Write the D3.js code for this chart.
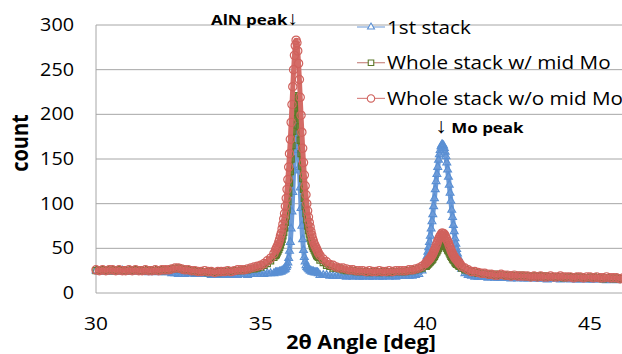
<!DOCTYPE html>
<meta charset="utf-8">
<script src="https://d3js.org/d3.v7.min.js"></script>
<style>
body { margin: 0; background: #fff; overflow: hidden; }
text { font-family: 'Open Sans', sans-serif; fill: #000; }
</style>
<div id="chart"></div>
<script>
// scan angle (2theta, deg) - coarse on background, fine on the two peaks
const angle = [
  30, 30.1, 30.2, 30.3, 30.4, 30.5, 30.6, 30.7, 30.8, 30.9,
  31, 31.1, 31.2, 31.3, 31.4, 31.5, 31.6, 31.7, 31.8, 31.9,
  32, 32.1, 32.2, 32.3, 32.4, 32.5, 32.6, 32.7, 32.8, 32.9,
  33, 33.1, 33.2, 33.3, 33.4, 33.5, 33.6, 33.7, 33.8, 33.9,
  34, 34.1, 34.2, 34.3, 34.4, 34.5, 34.6, 34.7, 34.8, 34.9,
  35, 35.1, 35.2, 35.3, 35.4,
  35.45, 35.475, 35.5, 35.525, 35.55, 35.575, 35.6, 35.625, 35.65, 35.675,
  35.7, 35.725, 35.75, 35.775, 35.8, 35.825, 35.85, 35.875, 35.9, 35.925,
  35.95, 35.975, 36, 36.025, 36.05, 36.075, 36.1, 36.125, 36.15, 36.175,
  36.2, 36.225, 36.25, 36.275, 36.3, 36.325, 36.35, 36.375, 36.4, 36.425,
  36.45, 36.475, 36.5, 36.525, 36.55, 36.575, 36.6, 36.625, 36.65, 36.675,
  36.7, 36.725, 36.75,
  36.8, 36.9, 37, 37.1, 37.2, 37.3, 37.4, 37.5, 37.6, 37.7,
  37.8, 37.9, 38, 38.1, 38.2, 38.3, 38.4, 38.5, 38.6, 38.7,
  38.8, 38.9, 39, 39.1, 39.2, 39.3, 39.4, 39.5, 39.6, 39.7,
  39.8, 39.9,
  40, 40.025, 40.05, 40.075, 40.1, 40.125, 40.15, 40.175, 40.2, 40.225,
  40.25, 40.275, 40.3, 40.325, 40.35, 40.375, 40.4, 40.425, 40.45, 40.475,
  40.5, 40.525, 40.55, 40.575, 40.6, 40.625, 40.65, 40.675, 40.7, 40.725,
  40.75, 40.775, 40.8, 40.825, 40.85, 40.875, 40.9, 40.925, 40.95, 40.975,
  41, 41.025, 41.05,
  41.1, 41.2, 41.3, 41.4, 41.5, 41.6, 41.7, 41.8, 41.9,
  42, 42.1, 42.2, 42.3, 42.4, 42.5, 42.6, 42.7, 42.8, 42.9,
  43, 43.1, 43.2, 43.3, 43.4, 43.5, 43.6, 43.7, 43.8, 43.9,
  44, 44.1, 44.2, 44.3, 44.4, 44.5, 44.6, 44.7, 44.8, 44.9,
  45, 45.1, 45.2, 45.3, 45.4, 45.5, 45.6, 45.7, 45.8, 45.9, 46
]

const stack1 = [
  25, 24, 25, 24, 24, 25, 24, 24, 25, 24,
  24, 24, 25, 24, 24, 24, 23, 24, 24, 23,
  24, 23, 23, 22, 22, 21, 21, 21, 22, 22,
  21, 22, 21, 21, 21, 20, 21, 20, 21, 20,
  21, 20, 21, 20, 21, 21, 20, 21, 21, 21,
  21, 21, 22, 22, 22,
  23, 23, 23, 23, 23, 24, 24, 24, 25, 25,
  26, 26, 27, 29, 31, 34, 39, 47, 57, 72,
  91, 113, 137, 160, 178, 189, 190, 181, 164, 141,
  118, 95, 75, 60, 48, 40, 35, 31, 29, 28,
  27, 26, 25, 25, 24, 24, 24, 23, 23, 23,
  23, 23, 22,
  20, 20, 20, 19, 19, 19, 19, 19, 18, 19,
  18, 19, 18, 18, 19, 18, 18, 19, 18, 18,
  19, 18, 19, 18, 19, 19, 19, 19, 19, 20,
  21, 25,
  34, 37, 41, 46, 51, 57, 64, 72, 80, 88,
  97, 106, 116, 125, 133, 141, 149, 155, 160, 164,
  166, 166, 165, 162, 158, 153, 146, 138, 130, 121,
  112, 103, 93, 85, 76, 69, 61, 55, 49, 44,
  40, 36, 32,
  27, 22, 20, 19, 18, 18, 18, 18, 17,
  18, 17, 17, 17, 17, 17, 16, 17, 16, 17,
  16, 16, 17, 16, 16, 16, 16, 15, 16, 16,
  16, 15, 16, 16, 15, 16, 15, 15, 16, 15,
  15, 15, 15, 16, 15, 14, 15, 15, 14, 15, 15
]

const withMidMo = [
  25, 26, 25, 26, 25, 25, 26, 25, 26, 25,
  25, 26, 25, 26, 25, 25, 26, 25, 25, 26,
  25, 26, 26, 27, 27, 28, 27, 26, 26, 25,
  24, 25, 24, 24, 23, 24, 24, 23, 24, 24,
  24, 25, 25, 25, 25, 26, 26, 27, 27, 28,
  29, 31, 33, 36, 40,
  42, 43, 45, 47, 49, 51, 54, 57, 60, 64,
  68, 73, 79, 86, 93, 102, 112, 123, 136, 150,
  165, 181, 195, 207, 216, 221, 218, 211, 200, 186,
  171, 156, 142, 128, 116, 106, 97, 89, 82, 75,
  70, 66, 62, 58, 55, 52, 50, 48, 46, 44,
  42, 41, 40,
  37, 34, 31, 30, 28, 28, 27, 26, 25, 25,
  25, 24, 24, 24, 24, 23, 24, 24, 23, 24,
  24, 23, 24, 24, 24, 24, 24, 25, 25, 26,
  27, 28,
  30, 30, 31, 32, 33, 34, 35, 36, 37, 38,
  40, 41, 43, 45, 46, 48, 50, 52, 53, 54,
  55, 56, 55, 54, 53, 52, 50, 48, 47, 45,
  43, 41, 40, 38, 37, 36, 34, 33, 32, 32,
  31, 30, 30,
  28, 26, 25, 24, 23, 22, 22, 21, 21,
  20, 21, 20, 20, 20, 19, 20, 19, 19, 20,
  19, 18, 19, 18, 19, 18, 19, 18, 18, 18,
  18, 18, 17, 18, 18, 18, 17, 18, 17, 17,
  17, 18, 17, 17, 16, 17, 17, 16, 17, 16, 16
]

const withoutMidMo = [
  26, 25, 26, 25, 26, 26, 25, 26, 25, 25,
  26, 25, 26, 25, 25, 26, 25, 25, 26, 25,
  26, 26, 26, 27, 28, 28, 27, 26, 26, 25,
  25, 24, 24, 25, 24, 24, 23, 24, 24, 24,
  25, 24, 25, 26, 26, 26, 27, 28, 29, 30,
  31, 33, 36, 39, 44,
  48, 50, 52, 54, 57, 60, 64, 67, 72, 77,
  83, 89, 97, 106, 116, 127, 141, 156, 172, 191,
  211, 231, 250, 266, 277, 283, 280, 271, 257, 239,
  219, 199, 180, 162, 146, 132, 120, 110, 100, 92,
  85, 79, 74, 69, 65, 61, 58, 55, 53, 51,
  49, 47, 45,
  42, 38, 35, 32, 31, 29, 28, 28, 27, 26,
  26, 25, 25, 25, 24, 25, 24, 24, 25, 24,
  24, 25, 24, 25, 25, 25, 25, 26, 26, 27,
  28, 30,
  33, 34, 35, 36, 37, 38, 39, 41, 42, 44,
  46, 48, 50, 53, 55, 58, 60, 62, 64, 65,
  67, 67, 66, 66, 64, 62, 60, 58, 56, 53,
  51, 48, 46, 44, 42, 41, 39, 38, 37, 36,
  35, 33, 33,
  30, 28, 26, 24, 24, 23, 22, 22, 21,
  21, 20, 20, 21, 20, 20, 19, 20, 19, 19,
  19, 19, 18, 19, 18, 19, 18, 18, 19, 18,
  18, 19, 18, 18, 18, 17, 18, 18, 17, 18,
  18, 17, 18, 17, 17, 18, 17, 17, 17, 16, 17
]

const seriesNames = ['1st stack', 'Whole stack w/ mid Mo', 'Whole stack w/o mid Mo']
const yTicks = [0, 50, 100, 150, 200, 250, 300]
const xTicks = [30, 35, 40, 45]

const width = 622, height = 354
const plot = {left: 96, right: 623, top: 25, bottom: 293}
const stretch = 1.13 // the original picture is a little wide, text included

const x = d3.scaleLinear().domain([30, 46]).range([plot.left, plot.right])
const y = d3.scaleLinear().domain([0, 300]).range([plot.bottom, plot.top])

// the scan is so dense in the original that the markers merge into a band,
// so the data line is drawn thick in the marker colour underneath them
const series = [
  {name: seriesNames[0], values: stack1, symbol: d3.symbolTriangle, size: 26,
   stroke: '#5a8fd3', band: '#6d9bd8', key: '#82a8dc'},
  {name: seriesNames[1], values: withMidMo, symbol: d3.symbolSquare, size: 38,
   stroke: '#5c782a', band: '#6a8634', key: '#c98a84'},
  {name: seriesNames[2], values: withoutMidMo, symbol: d3.symbolCircle, size: 54,
   stroke: '#d0625d', band: '#d46b66', key: '#d98784'},
]

const svg = d3.select('#chart').append('svg')
  .attr('width', width)
  .attr('height', height)

// stretched text, placed at (px, py)
function label(parent, px, py, str, size, anchor, weight, rotate) {
  const g = parent.append('g')
    .attr('transform', `translate(${px},${py}) scale(${stretch},1)` + (rotate ? ` rotate(${rotate})` : ''))
  return g.append('text')
    .attr('text-anchor', anchor)
    .attr('font-size', size)
    .attr('font-weight', weight || 'normal')
    .text(str)
}

// grid lines
svg.append('g')
  .selectAll('line')
  .data(yTicks.filter(d => d > 0))
  .join('line')
  .attr('x1', plot.left).attr('x2', width)
  .attr('y1', d => y(d)).attr('y2', d => y(d))
  .attr('stroke', '#a6a6a6')
  .attr('stroke-width', 1)

// axis lines
svg.append('line')
  .attr('x1', plot.left).attr('x2', plot.left)
  .attr('y1', plot.top).attr('y2', plot.bottom)
  .attr('stroke', '#a6a6a6')
svg.append('line')
  .attr('x1', plot.left).attr('x2', width)
  .attr('y1', plot.bottom).attr('y2', plot.bottom)
  .attr('stroke', '#a6a6a6')

const tickG = svg.append('g')
yTicks.forEach(t => label(tickG, 74, y(t) + 6, t, 17.5, 'end'))
xTicks.forEach(t => label(tickG, x(t), 330, t, 18.5, 'middle'))

// data: lines + hollow markers, red series drawn last
const line = d3.line()
  .x((d, i) => x(angle[i]))
  .y(d => y(d))

series.forEach(s => {
  const g = svg.append('g')
  g.append('path')
    .datum(s.values)
    .attr('d', line)
    .attr('fill', 'none')
    .attr('stroke', s.band)
    .attr('stroke-width', 5)
    .attr('stroke-linejoin', 'round')
  g.selectAll('path.m')
    .data(s.values)
    .join('path')
    .attr('class', 'm')
    .attr('d', d3.symbol().type(s.symbol).size(s.size))
    .attr('transform', (d, i) => `translate(${x(angle[i])},${y(d)})`)
    .attr('fill', 'none')
    .attr('stroke', s.stroke)
    .attr('stroke-width', 1.2)
})

// legend
const legend = svg.append('g')
series.forEach((s, i) => {
  const ly = 27 + i * 35.7
  legend.append('line')
    .attr('x1', 357).attr('x2', 385)
    .attr('y1', ly).attr('y2', ly)
    .attr('stroke', s.key)
    .attr('stroke-width', 1.2)
  legend.append('path')
    .attr('d', d3.symbol().type(s.symbol).size(s.size * 0.8))
    .attr('transform', `translate(371,${ly})`)
    .attr('fill', '#fff')
    .attr('stroke', s.stroke)
    .attr('stroke-width', 1.1)
  label(legend, 387, ly + 6.5, s.name, 18.3, 'start')
})

// annotations
const aln = label(svg, 211, 25, 'AlN peak', 15, 'start', 'bold')
aln.append('tspan').attr('font-size', 19).attr('font-weight', 'normal').text('\u2193')
const mo = label(svg, 435, 133, '', 15, 'start', 'bold')
mo.append('tspan').attr('font-size', 21).attr('font-weight', 'normal').text('\u2193')
mo.append('tspan').text(' Mo peak')

// axis titles
label(svg, 28, 143, 'count', 20, 'middle', 'bold', -90)
label(svg, 361, 349, '2\u03b8 Angle [deg]', 19, 'middle', 'bold')
</script>
